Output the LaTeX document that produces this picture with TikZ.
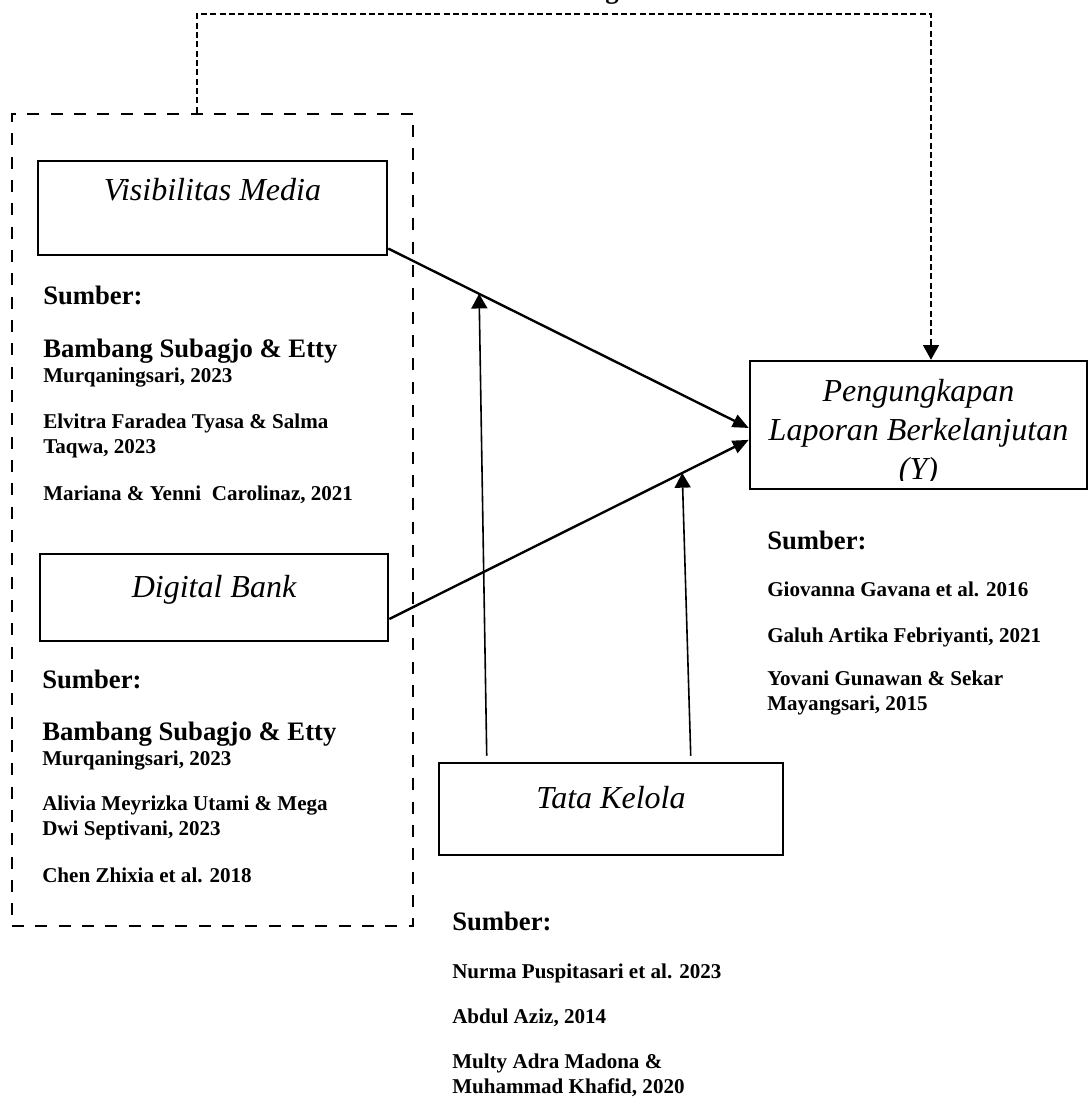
\documentclass[tikz,border=0pt]{standalone}
\usepackage{fontspec}
\setmainfont{Liberation Serif}
\usetikzlibrary{arrows.meta, positioning, calc}

\tikzset{
  varbox/.style={draw, line width=1.9pt, font=\fontsize{24}{29.25}\selectfont\itshape, text height=16pt},
  grpbox/.style={draw, line width=2pt, dash pattern=on 9pt off 8.5pt},
  srclabel/.style={anchor=base west, inner sep=0pt, font=\fontsize{20}{24}\selectfont\bfseries},
  reflabel/.style={anchor=base west, align=left, inner sep=0pt, font=\fontsize{15.8}{18.75}\selectfont\bfseries},
  mainarrow/.style={line width=1.8pt, -{Triangle[length=12pt, width=10pt]}},
  modarrow/.style={line width=1.2pt, -{Triangle[length=11pt, width=12pt]}},
  fbline/.style={line width=0.9pt, dash pattern=on 4.5pt off 2.5pt, -{Triangle[length=11pt, width=12pt]}}
}

\begin{document}
\begin{tikzpicture}[x=0.75pt, y=-0.75pt]
        \useasboundingbox (0,0) rectangle (1088,1097);

        % Cut-off text at the top edge
        \node [srclabel, anchor=base] (cut) at (612,-1.5) {g};

        % Group box round the two left variables
        \node [grpbox, minimum width=300.75pt, minimum height=609pt] (grp) at (212.5,520) {};

        % Variable boxes
        \node [varbox, minimum width=261.75pt, minimum height=70.5pt, text depth=28pt] (vis) at (212.5,208) {Visibilitas Media};
        \node [varbox, minimum width=261pt, minimum height=65.25pt, text depth=16pt] (dig) at (214,597.5) {Digital Bank};
        \node [varbox, minimum width=258pt, minimum height=69pt, text depth=17.5pt] (tk) at (611,809) {Tata Kelola};
        \node [varbox, minimum width=252.75pt, minimum height=96pt] (lap) at (918.5,425) {};
        \begin{scope}
            \clip (lap.north west) rectangle ($(lap.south east)+(0,-10)$);
            \node [anchor=base, align=center, inner sep=0pt, font=\fontsize{24}{29.25}\selectfont\itshape] (laptext) at (918.5,479) {Pengungkapan\\Laporan Berkelanjutan\\(Y)};
        \end{scope}

        % Main paths and moderation
        \draw [mainarrow] (vis.-13.5) -- coordinate[pos=0.252] (m1) (lap.181);
        \draw [mainarrow] (dig.-7) -- coordinate[pos=0.815] (m2) (lap.185.4);
        \draw [modarrow] ($(tk.north west)+(49,-6)$) -- (m1);
        \draw [modarrow] ($(tk.north west)+(253,-6)$) -- (m2);

        % Simultaneous path
        \coordinate (fbL) at (197,14);
        \coordinate (fbR) at (931,14);
        \draw [fbline] (fbL |- grp.north) -- (fbL) -- (fbR) -- (fbR |- lap.north);

        % Sources (Visibilitas Media)
        \node [srclabel] (srcvis) at (43,304) {Sumber:};
        \node [reflabel] (refvisa) at (43,382) {{\fontsize{20}{18.75}\selectfont Bambang Subagjo \& Etty}\\Murqaningsari, 2023};
        \node [reflabel] (refvisb) at (43,453) {Elvitra Faradea Tyasa \& Salma\\Taqwa, 2023};
        \node [reflabel] (refvisc) at (43,500) {Mariana \& Yenni\ \ Carolinaz, 2021};

        % Sources (Digital Bank)
        \node [srclabel] (srcdig) at (42,688) {Sumber:};
        \node [reflabel] (refdiga) at (42,765) {{\fontsize{20}{18.75}\selectfont Bambang Subagjo \& Etty}\\Murqaningsari, 2023};
        \node [reflabel] (refdigb) at (42,835) {Alivia Meyrizka Utami \& Mega\\Dwi Septivani, 2023};
        \node [reflabel] (refdigc) at (42,882) {Chen Zhixia et al. 2018};

        % Sources (Pengungkapan Laporan Berkelanjutan)
        \node [srclabel] (srclap) at (767,549) {Sumber:};
        \node [reflabel] (reflapa) at (767,596) {Giovanna Gavana et al. 2016};
        \node [reflabel] (reflapb) at (767,642) {Galuh Artika Febriyanti, 2021};
        \node [reflabel] (reflapc) at (767,710) {Yovani Gunawan \& Sekar\\Mayangsari, 2015};

        % Sources (Tata Kelola)
        \node [srclabel] (srctk) at (452,930) {Sumber:};
        \node [reflabel] (reftka) at (452,978) {Nurma Puspitasari et al. 2023};
        \node [reflabel] (reftkb) at (452,1023) {Abdul Aziz, 2014};
        \node [reflabel] (reftkc) at (452,1093) {Multy Adra Madona \&\\Muhammad Khafid, 2020};
    \end{tikzpicture}
\end{document}
